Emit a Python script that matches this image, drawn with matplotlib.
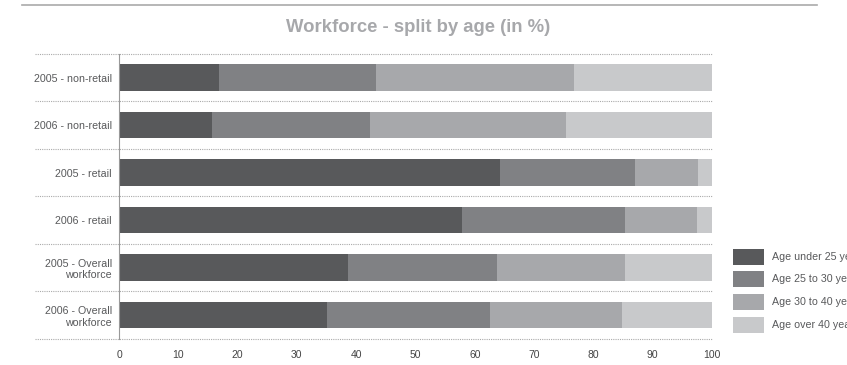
import matplotlib
matplotlib.use("Agg")
import matplotlib.pyplot as plt
from matplotlib.lines import Line2D
from matplotlib.patches import Rectangle
import numpy as np

# workforce split by age group, in percent
groups = ["2005 - non-retail", "2006 - non-retail", "2005 - retail",
          "2006 - retail", "2005 - Overall\nworkforce", "2006 - Overall\nworkforce"]
age_labels = ["Age under 25 years", "Age 25 to 30 years",
              "Age 30 to 40 years", "Age over 40 years"]
under_25 = [16.9, 15.6, 64.2, 57.8, 38.7, 35.0]
age_25_30 = [26.4, 26.7, 22.8, 27.5, 25.0, 27.5]
age_30_40 = [33.4, 33.0, 10.6, 12.1, 21.6, 22.4]
over_40 = [23.3, 24.7, 2.4, 2.6, 14.7, 15.1]
x_ticks = [0, 10, 20, 30, 40, 50, 60, 70, 80, 90, 100]

colors = ["#58595b", "#808184", "#a7a8ab", "#c8c9cb"]
text_col = "#58595b"

plt.rcParams["font.family"] = ["Liberation Sans", "DejaVu Sans"]

W, H = 847, 365
fig = plt.figure(figsize=(W / 100, H / 100), dpi=100)
ax = fig.add_axes([119 / W, 1 - 338.7 / H, (712 - 119) / W, (338.7 - 54) / H])

y = np.arange(len(groups))
left = np.zeros(len(groups))
for vals, col, lab in zip([under_25, age_25_30, age_30_40, over_40], colors, age_labels):
    ax.barh(y, vals, left=left, height=0.56, color=col, label=lab, linewidth=0)
    left += np.array(vals)

ax.set_xlim(0, 100)
ax.set_ylim(len(groups) - 0.5, -0.5)
ax.set_xticks(x_ticks)
ax.set_yticks(y)
ax.set_yticklabels(groups, fontsize=7.7, color=text_col, linespacing=1.2)
ax.tick_params(axis="x", labelsize=7.5, colors="#444444", length=0, pad=8)
ax.tick_params(axis="y", length=0, pad=5)

for s in ["top", "right", "bottom"]:
    ax.spines[s].set_visible(False)
ax.spines["left"].set_linestyle((0, (1, 1)))
ax.spines["left"].set_color("#999999")
ax.spines["left"].set_linewidth(0.8)

# dotted separators between categories, running out under the labels
for b in np.arange(-0.5, len(groups), 1.0):
    ax.axhline(b, xmin=(35 - 119) / (712 - 119), xmax=1, color="#aaaaaa",
               linestyle=(0, (1, 1)), linewidth=0.8, clip_on=False, zorder=0)

# rule above the title
fig.add_artist(Line2D([22 / W, 817 / W], [1 - 4.5 / H, 1 - 4.5 / H],
                      color="#aaaaaa", linewidth=1.2))
fig.text(418 / W, 1 - 28 / H, "Workforce - split by age (in %)", ha="center",
         va="center", fontsize=13.3, fontweight="bold", color="#a7a8ab")

# legend keys on the right, running off the edge of the figure
for i, (col, lab) in enumerate(zip(colors, age_labels)):
    yc = 256.5 + i * 22.7
    fig.add_artist(Rectangle((733 / W, 1 - (yc + 8) / H), 31 / W, 16 / H,
                             color=col, linewidth=0))
    fig.text(772 / W, 1 - yc / H, lab, ha="left", va="center",
             fontsize=7.7, color=text_col)

fig.savefig("out.png", dpi=100)
